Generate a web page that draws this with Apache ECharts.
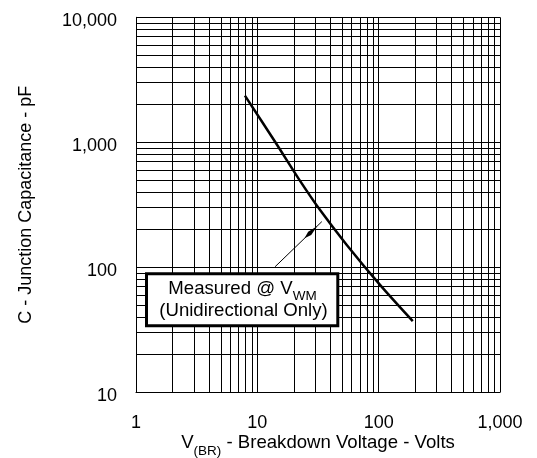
<!DOCTYPE html>
<html><head><meta charset="utf-8">
<script src="https://cdn.jsdelivr.net/npm/echarts@6/dist/echarts.min.js"></script>
<style>html,body{margin:0;padding:0;background:#fff}#c{width:537px;height:458px}</style>
</head><body><div id="c"></div>
<script>
// ---- data ----
const voltage = [7.9, 14, 21.8, 32.9, 54.6, 103, 191];        // V(BR), volts
const capacitance = [2360, 1010, 515, 287, 151, 72, 37.1];    // pF
const xDecades = [1, 10, 100];
const yDecades = [10, 100, 1000];
const minorSteps = [2, 3, 4, 5, 6, 7, 8, 9];
const arrowFrom = [14.0, 101];   // data coords (V, pF)
const arrowTo = [34, 232];
const noteLine1 = 'Measured @ V';
const noteSub = 'WM';
const noteLine2 = '(Unidirectional Only)';
const xTitleMain = 'V', xTitleSub = '(BR)', xTitleRest = ' - Breakdown Voltage - Volts';
const yTitle = 'C - Junction Capacitance - pF';

const FONT = '"Liberation Sans", Arial, sans-serif';
const xMinor = [], yMinor = [];
xDecades.forEach(d => minorSteps.forEach(m => xMinor.push(d * m)));
yDecades.forEach(d => minorSteps.forEach(m => yMinor.push(d * m)));

const fmt = v => Math.round(v).toLocaleString('en-US');
const chart = echarts.init(document.getElementById('c'), null, {renderer: 'canvas'});
const gridLine = {color: '#000', width: 1, type: 'solid'};

chart.setOption({
  animation: false,
  backgroundColor: '#fff',
  grid: {left: 136, right: 37, top: 17.3, bottom: 65.7, outerBoundsMode: 'none', containLabel: false},
  xAxis: {
    type: 'log', logBase: 10, min: 1, max: 1000,
    axisLine: {show: true, onZero: false, lineStyle: {color: '#000', width: 1}},
    axisTick: {show: false},
    splitLine: {show: true, lineStyle: gridLine},
    axisLabel: {color: '#000', fontSize: 18, fontFamily: FONT, margin: 22, formatter: fmt},
    name: '{v|' + xTitleMain + '}{s|' + xTitleSub + '}{v|' + xTitleRest + '}',
    nameLocation: 'middle', nameGap: 41, nameMoveOverlap: false,
    nameTextStyle: {
      rich: {
        v: {fontSize: 18.6, fontFamily: FONT, color: '#000', lineHeight: 20},
        s: {fontSize: 13.5, fontFamily: FONT, color: '#000', lineHeight: 20, padding: [16, 0, 0, 0]}
      }
    }
  },
  yAxis: {
    type: 'log', logBase: 10, min: 10, max: 10000,
    axisLine: {show: true, onZero: false, lineStyle: {color: '#000', width: 1}},
    axisTick: {show: false},
    splitLine: {show: true, lineStyle: gridLine},
    axisLabel: {color: '#000', fontSize: 18, fontFamily: FONT, margin: 19, formatter: fmt, verticalAlign: 'top', lineHeight: 7},
    name: yTitle, nameLocation: 'middle', nameGap: 101, nameRotate: 90, nameMoveOverlap: false,
    nameTextStyle: {color: '#000', fontSize: 18, fontFamily: FONT}
  },
  series: [
    {
      type: 'line', data: [], z: 1, silent: true,
      markLine: {
        silent: true, symbol: ['none', 'none'], animation: false,
        label: {show: false},
        lineStyle: gridLine,
        data: xMinor.map(v => ({xAxis: v})).concat(yMinor.map(v => ({yAxis: v})))
      }
    },
    {
      type: 'line', z: 5, smooth: 0.3, showSymbol: false, symbol: 'none',
      lineStyle: {color: '#000', width: 2.5},
      data: voltage.map((v, i) => [v, capacitance[i]])
    }
  ]
});

// annotation arrow + box
const p0 = chart.convertToPixel({gridIndex: 0}, arrowFrom);
const p1 = chart.convertToPixel({gridIndex: 0}, arrowTo);
const at = t => [p0[0] + (p1[0] - p0[0]) * t, p0[1] + (p1[1] - p0[1]) * t];
const dx = p1[0] - p0[0], dy = p1[1] - p0[1], L = Math.hypot(dx, dy);
const nx = -dy / L * 2.2, ny = dx / L * 2.2;
const hb = at(0.63), hm = at(0.74), ht = at(0.9);

chart.setOption({
  graphic: [
    {type: 'line', z: 10, shape: {x1: p0[0], y1: p0[1], x2: p1[0], y2: p1[1]}, style: {stroke: '#000', lineWidth: 1}},
    {type: 'polygon', z: 10, shape: {points: [hb, [hm[0] + nx, hm[1] + ny], ht, [hm[0] - nx, hm[1] - ny]]}, style: {fill: '#000'}},
    {type: 'rect', z: 20, shape: {x: 146.5, y: 273.8, width: 191.3, height: 52}, style: {fill: '#fff', stroke: '#000', lineWidth: 3}},
    {type: 'text', z: 21, x: 242.5, y: 289,
      style: {
        text: '{a|' + noteLine1 + '}{s|' + noteSub + '}',
        align: 'center', verticalAlign: 'middle',
        rich: {
          a: {fontSize: 18.6, fontFamily: FONT, fill: '#000', lineHeight: 20},
          s: {fontSize: 13.5, fontFamily: FONT, fill: '#000', lineHeight: 20, padding: [15, 0, 0, 0]}
        }
      }
    },
    {type: 'text', z: 21, x: 243.5, y: 310.5,
      style: {text: noteLine2, align: 'center', verticalAlign: 'middle', fontSize: 18.6, fontFamily: FONT, fill: '#000'}
    }
  ]
});
</script>
</body></html>
